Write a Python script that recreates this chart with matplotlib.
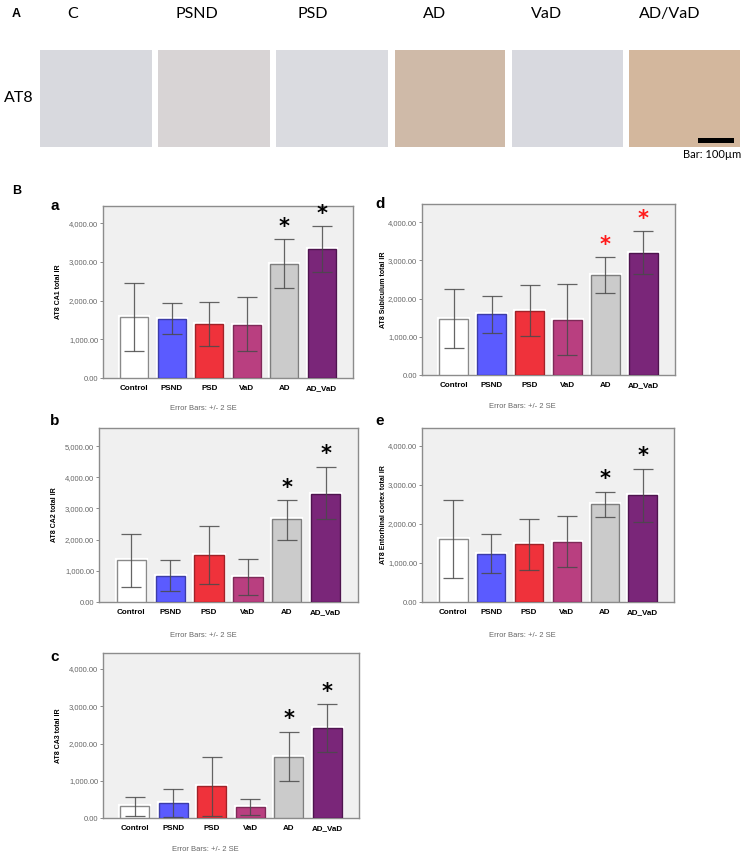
import matplotlib
matplotlib.use("Agg")
import matplotlib.pyplot as plt
from matplotlib.patches import Rectangle
import numpy as np

W, H = 743, 855

# ---------------- data ----------------
tile_labels = ['C', 'PSND', 'PSD', 'AD', 'VaD', 'AD/VaD']
tile_colors = ['#d8d9de', '#d8d4d5', '#dadbe0', '#cfbaa8', '#d8d9df', '#d3b79d']

categories = ['Control', 'PSND', 'PSD', 'VaD', 'AD', 'AD_VaD']
bar_colors = ['#ffffff', '#5b5bff', '#ef323b', '#b93f80', '#cbcbcb', '#7a2679']
edge_colors = ['#8a8a8a', '#3c3ca8', '#a02228', '#7e2a58', '#7e7e7e', '#4e144e']

ca1_mean = [1570, 1520, 1390, 1380, 2960, 3330]
ca1_lo   = [700, 1130, 820, 700, 2330, 2740]
ca1_hi   = [2450, 1940, 1960, 2090, 3590, 3930]

ca2_mean = [1350, 830, 1510, 800, 2660, 3460]
ca2_lo   = [480, 340, 580, 220, 1990, 2660]
ca2_hi   = [2190, 1350, 2440, 1380, 3270, 4330]

ca3_mean = [320, 400, 860, 300, 1650, 2420]
ca3_lo   = [60, 30, 60, 90, 1000, 1770]
ca3_hi   = [570, 780, 1650, 520, 2310, 3060]

sub_mean = [1470, 1600, 1680, 1440, 2620, 3190]
sub_lo   = [700, 1100, 1020, 520, 2150, 2640]
sub_hi   = [2250, 2070, 2360, 2380, 3090, 3760]

ent_mean = [1610, 1230, 1490, 1540, 2510, 2740]
ent_lo   = [610, 740, 820, 900, 2180, 2050]
ent_hi   = [2610, 1740, 2130, 2200, 2820, 3410]

sig_groups = ['AD', 'AD_VaD']

# ---------------- figure ----------------
fig = plt.figure(figsize=(W / 100, H / 100), dpi=100)
fig.patch.set_facecolor('white')


def px_axes(x0, y0, x1, y1):
    return fig.add_axes([x0 / W, 1 - y1 / H, (x1 - x0) / W, (y1 - y0) / H])


def ftext(x, y, s, **kw):
    fig.text(x / W, 1 - y / H, s, **kw)


# ---- Panel A ----
ftext(12, 14, 'A', fontsize=9, fontweight='bold', ha='left', va='center',
      family='Liberation Sans')
tile_x = [(40, 152), (158, 270), (276, 388), (395, 505), (512, 623), (629, 740)]
label_x = [73, 197, 313, 435, 547, 670]
for (x0, x1), lx, lab, col in zip(tile_x, label_x, tile_labels, tile_colors):
    ax = px_axes(x0, 50, x1, 147)
    ax.add_patch(Rectangle((0, 0), 1, 1, facecolor=col, edgecolor='none'))
    ax.set_xlim(0, 1)
    ax.set_ylim(0, 1)
    ax.axis('off')
    ftext(lx, 14, lab, fontsize=11.5, ha='center', va='center', family='Lato')
ftext(19, 98, 'AT8', fontsize=11.5, ha='center', va='center', family='Lato')
# scale bar
sb = px_axes(698, 138, 734, 143)
sb.add_patch(Rectangle((0, 0), 1, 1, facecolor='black', edgecolor='none'))
sb.set_xlim(0, 1)
sb.set_ylim(0, 1)
sb.axis('off')
ftext(741, 154, 'Bar: 100µm', fontsize=8, ha='right', va='center', family='Lato')

# ---- Panel B ----
ftext(12, 191, 'B', fontsize=9, fontweight='bold', ha='left', va='center',
      family='Liberation Sans')

panels = [
    ('a', (55, 206), (103, 206, 353, 378), ca1_mean, ca1_lo, ca1_hi,
     'AT8 CA1 total IR', 4450, 'black', (203, 408), 5, 4000),
    ('b', (55, 421), (99, 428, 358, 602), ca2_mean, ca2_lo, ca2_hi,
     'AT8 CA2 total IR', 5580, 'black', (203, 635), 5, 5000),
    ('c', (55, 657), (103, 653, 359, 818), ca3_mean, ca3_lo, ca3_hi,
     'AT8 CA3 total IR', 4430, 'black', (205, 849), 5, 4000),
    ('d', (380, 204), (422, 204, 675, 375), sub_mean, sub_lo, sub_hi,
     'AT8 Subiculum total IR', 4480, '#ff1a1a', (522, 406), 1, 4000),
    ('e', (380, 421), (422, 428, 674, 602), ent_mean, ent_lo, ent_hi,
     'AT8 Entorhinal cortex total IR', 4460, 'black', (522, 635), 1, 4000),
]

for (letter, lpos, box, mean, lo, hi, ylab, ymax, acol, epos, lpad, tmax) in panels:
    ftext(lpos[0], lpos[1], letter, fontsize=11, fontweight='bold',
          ha='center', va='center', family='Liberation Sans')
    ax = px_axes(*box)
    ax.set_facecolor('#f0f0f0')
    x = np.arange(len(categories))
    mean = np.array(mean)
    lo = np.array(lo)
    hi = np.array(hi)
    # white halo
    ax.bar(x, mean, width=0.75, color=bar_colors, edgecolor='white',
           linewidth=3.0, zorder=2)
    ax.bar(x, mean, width=0.75, color=bar_colors, edgecolor=edge_colors,
           linewidth=1.0, zorder=3)
    ax.errorbar(x, mean, yerr=[mean - lo, hi - mean], fmt='none',
                ecolor='#4a4a4a', elinewidth=0.9, capsize=7, capthick=0.9,
                zorder=4, alpha=0.85)
    for g in sig_groups:
        i = categories.index(g)
        ax.annotate('*', xy=(x[i], hi[i]), xytext=(0, 9),
                    textcoords='offset points', ha='center', va='center',
                    fontsize=15, fontweight='bold', color=acol,
                    family='DejaVu Sans')
    ax.set_xlim(-0.83, len(categories) - 0.17)
    ax.set_ylim(0, ymax)
    ticks = np.arange(0, tmax + 1, 1000)
    ax.set_yticks(ticks)
    ax.set_yticklabels([f'{t:,.2f}' for t in ticks], fontsize=5.5,
                       color='#666666', family='Liberation Sans')
    ax.set_xticks(x)
    ax.set_xticklabels(categories, fontsize=5.8, fontweight='bold',
                       family='Liberation Sans')
    ax.tick_params(axis='x', length=0, pad=5)
    ax.tick_params(axis='y', length=2.5, width=0.6, color='#777777', pad=1)
    for sp in ax.spines.values():
        sp.set_color('#8c8c8c')
        sp.set_linewidth(1.0)
    ax.set_ylabel(ylab, fontsize=5, fontweight='bold', family='Liberation Sans',
                  labelpad=lpad)
    ftext(epos[0], epos[1], 'Error Bars: +/- 2 SE', fontsize=5.5,
          color='#666666', ha='center', va='center', family='Liberation Sans')

fig.savefig('out.png', dpi=100, facecolor='white')
